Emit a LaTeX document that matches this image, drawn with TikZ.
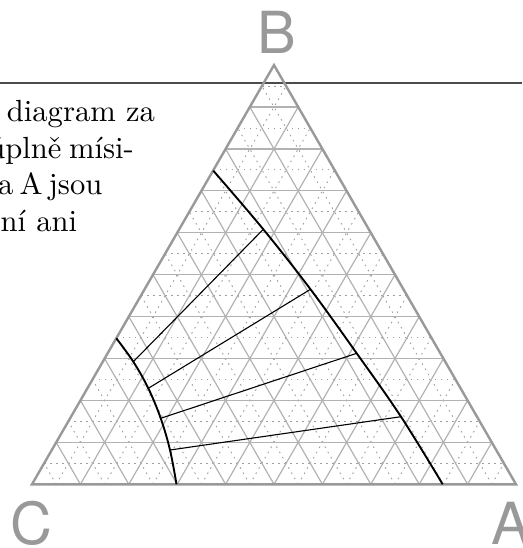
\documentclass[tikz,border=0pt]{standalone}
\usepackage{fontspec}
\newfontfamily\labfont{TeX Gyre Heros}
\usetikzlibrary{calc}
\begin{document}
\begin{tikzpicture}[x=1pt,y=-1pt,
  gridline/.style={draw=black!30, line width=1.2pt},
  subline/.style={draw=black!38, line width=0.9pt, dash pattern=on 1.6pt off 4.4pt},
  frameline/.style={draw=black!40, line width=2.4pt, line join=miter},
  topline/.style={draw=black!70, line width=1.2pt},
  binodal/.style={draw=black, line width=1.9pt},
  tieline/.style={draw=black, line width=1.1pt},
  corner/.style={text=black!40, font=\labfont\fontsize{58}{60}\selectfont, inner sep=0pt},
  body/.style={font=\fontsize{10}{12}\selectfont, scale=3.06, inner sep=0pt, anchor=base east}]
\useasboundingbox (0,0) rectangle (522,548);
\clip (0,0) rectangle (522,548);
\coordinate (C) at (32,484.3);
\coordinate (A) at (516,484.3);
\coordinate (B) at (274,65.1);
\coordinate (L0) at (0,83);
\coordinate (L1) at (522,83);
% text (clipped paragraph)
\node[body] (t1) at (155.5,121.5) {diagram za};
\node[body] (t2) at (134.5,158.2) {úplně\hspace{0.25em}mísi-};
\node[body] (t3) at (103,194.9) {a\hspace{0.2em}A\hspace{0.2em}jsou};
\node[body] (t4) at (77.8,231.6) {ní ani};
\draw[topline] (L0) -- (L1);
% fine grid
\foreach \k in {1,3,...,19} {
  \pgfmathsetmacro\t{\k/20}
  \draw[subline] ($(C)!\t!(B)$) -- ($(A)!\t!(B)$);
  \draw[subline] ($(C)!\t!(A)$) -- ($(B)!\t!(A)$);
  \draw[subline] ($(A)!\t!(C)$) -- ($(B)!\t!(C)$);
}
% main grid
\foreach \k in {1,...,9} {
  \pgfmathsetmacro\t{\k/10}
  \draw[gridline] ($(C)!\t!(B)$) -- ($(A)!\t!(B)$);
  \draw[gridline] ($(C)!\t!(A)$) -- ($(B)!\t!(A)$);
  \draw[gridline] ($(A)!\t!(C)$) -- ($(B)!\t!(C)$);
}
\draw[frameline] (C) -- (A) -- (B) -- cycle;
% binodal points
\coordinate (P0) at (116.3,338.3);
\coordinate (P1) at (133.3,361.7);
\coordinate (P2) at (148.3,388.3);
\coordinate (P3) at (160.7,418.3);
\coordinate (P4) at (170,450);
\coordinate (P5) at (176.5,484.3);
\coordinate (Q0) at (213.3,170.7);
\coordinate (Q1) at (263.3,229.3);
\coordinate (Q2) at (310.5,289.3);
\coordinate (Q3) at (356.7,353.3);
\coordinate (Q4) at (401,416.7);
\coordinate (Q5) at (442.7,484.3);
\draw[binodal] plot[smooth, tension=0.6] coordinates {(P0) (P1) (P2) (P3) (P4) (P5)};
\draw[binodal] plot[smooth, tension=0.6] coordinates {(Q0) (Q1) (Q2) (Q3) (Q4) (Q5)};
\draw[tieline] (P1) -- (Q1);
\draw[tieline] (P2) -- (Q2);
\draw[tieline] (P3) -- (Q3);
\draw[tieline] (P4) -- (Q4);
% corner labels
\node[corner] (lB) at (276.5,32.5) {B};
\node[corner] (lC) at (31,523) {C};
\node[corner] (lA) at (511,523) {A};
\end{tikzpicture}
\end{document}
